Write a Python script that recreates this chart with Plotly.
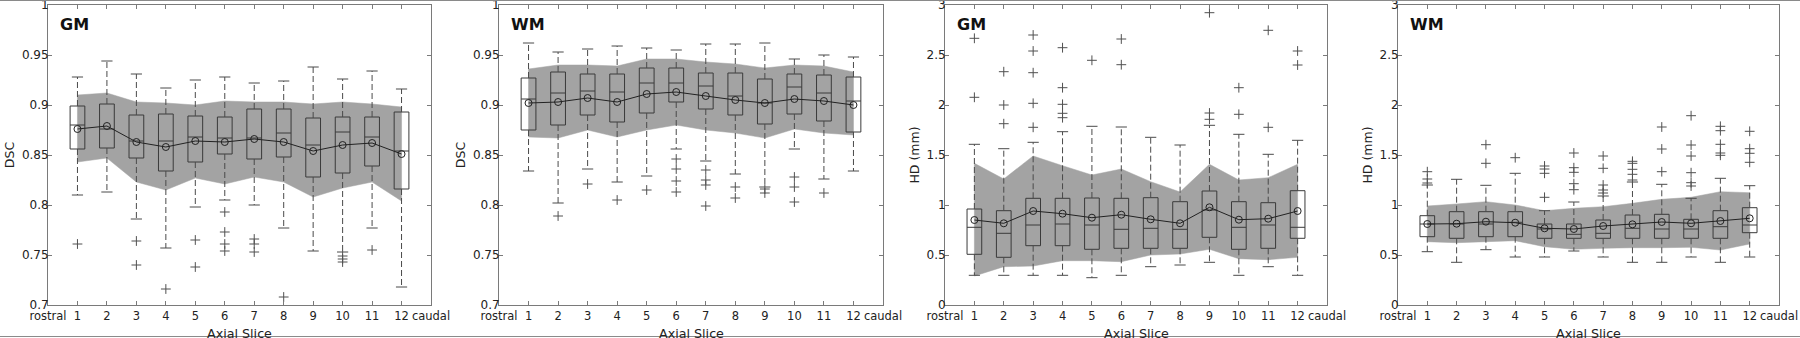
import plotly.graph_objects as go

slices = list(range(1, 13))
x_tickvals = list(range(0, 14))
x_ticktext = ["rostral"] + [str(i) for i in range(1, 13)] + ["caudal"]
dsc_ticks = [0.7, 0.75, 0.8, 0.85, 0.9, 0.95, 1]
hd_ticks = [0, 0.5, 1, 1.5, 2, 2.5, 3]

# ---- Panel 1: GM DSC ----
gm_dsc_hi = [0.928, 0.944, 0.931, 0.917, 0.925, 0.928, 0.922, 0.924, 0.938, 0.926, 0.934, 0.916]
gm_dsc_q3 = [0.899, 0.901, 0.890, 0.891, 0.889, 0.888, 0.896, 0.896, 0.887, 0.888, 0.888, 0.893]
gm_dsc_med = [0.880, 0.876, 0.864, 0.864, 0.868, 0.867, 0.867, 0.872, 0.860, 0.873, 0.868, 0.854]
gm_dsc_q1 = [0.856, 0.857, 0.847, 0.834, 0.843, 0.851, 0.846, 0.848, 0.828, 0.832, 0.839, 0.816]
gm_dsc_lo = [0.810, 0.813, 0.786, 0.757, 0.798, 0.805, 0.800, 0.777, 0.754, 0.753, 0.777, 0.718]
gm_dsc_mean = [0.876, 0.879, 0.863, 0.858, 0.864, 0.863, 0.866, 0.863, 0.854, 0.860, 0.862, 0.851]
gm_dsc_band_hi = [0.910, 0.912, 0.903, 0.902, 0.900, 0.904, 0.903, 0.903, 0.901, 0.903, 0.901, 0.898]
gm_dsc_band_lo = [0.843, 0.847, 0.823, 0.815, 0.827, 0.821, 0.828, 0.823, 0.808, 0.817, 0.823, 0.804]
gm_dsc_out = [[0.761], [], [0.764, 0.740], [0.716], [0.765, 0.738], [0.793, 0.773, 0.761, 0.754],
              [0.766, 0.761, 0.753], [0.708], [], [0.749, 0.746, 0.743], [0.755], []]

# ---- Panel 2: WM DSC ----
wm_dsc_hi = [0.962, 0.953, 0.956, 0.959, 0.957, 0.955, 0.961, 0.961, 0.962, 0.946, 0.950, 0.948]
wm_dsc_q3 = [0.927, 0.933, 0.931, 0.931, 0.937, 0.937, 0.932, 0.932, 0.926, 0.931, 0.930, 0.928]
wm_dsc_med = [0.906, 0.912, 0.914, 0.913, 0.922, 0.922, 0.919, 0.909, 0.902, 0.918, 0.912, 0.904]
wm_dsc_q1 = [0.875, 0.880, 0.890, 0.883, 0.892, 0.903, 0.896, 0.890, 0.881, 0.891, 0.884, 0.873]
wm_dsc_lo = [0.834, 0.802, 0.836, 0.823, 0.829, 0.856, 0.844, 0.831, 0.818, 0.856, 0.826, 0.834]
wm_dsc_mean = [0.902, 0.903, 0.907, 0.903, 0.911, 0.913, 0.909, 0.905, 0.902, 0.906, 0.904, 0.900]
wm_dsc_band_hi = [0.936, 0.940, 0.940, 0.939, 0.946, 0.946, 0.943, 0.941, 0.937, 0.940, 0.939, 0.933]
wm_dsc_band_lo = [0.868, 0.867, 0.875, 0.868, 0.875, 0.880, 0.875, 0.872, 0.867, 0.876, 0.872, 0.870]
wm_dsc_out = [[], [0.789], [0.821], [0.805], [0.815], [0.846, 0.836, 0.824, 0.813],
              [0.835, 0.825, 0.820, 0.799], [0.818, 0.807], [0.816, 0.812],
              [0.828, 0.818, 0.803], [0.812], []]

# ---- Panel 3: GM HD ----
gm_hd_hi = [1.607, 1.563, 1.627, 1.733, 1.787, 1.780, 1.677, 1.600, 1.797, 1.707, 1.507, 1.647]
gm_hd_q3 = [0.960, 0.943, 1.067, 1.067, 1.070, 1.067, 1.073, 1.033, 1.140, 1.033, 1.023, 1.143]
gm_hd_med = [0.777, 0.717, 0.800, 0.810, 0.800, 0.757, 0.767, 0.757, 0.950, 0.777, 0.800, 0.777]
gm_hd_q1 = [0.507, 0.477, 0.593, 0.593, 0.557, 0.567, 0.567, 0.567, 0.677, 0.557, 0.567, 0.667]
gm_hd_lo = [0.297, 0.297, 0.297, 0.297, 0.273, 0.297, 0.383, 0.400, 0.427, 0.297, 0.383, 0.297]
gm_hd_mean = [0.850, 0.817, 0.940, 0.913, 0.873, 0.903, 0.857, 0.817, 0.977, 0.853, 0.863, 0.940]
gm_hd_band_hi = [1.417, 1.260, 1.490, 1.393, 1.300, 1.360, 1.233, 1.130, 1.407, 1.250, 1.273, 1.407]
gm_hd_band_lo = [0.290, 0.383, 0.390, 0.443, 0.443, 0.433, 0.500, 0.510, 0.557, 0.463, 0.453, 0.477]
gm_hd_out = [[2.667, 2.077], [2.333, 2.0, 1.813], [2.70, 2.54, 2.323, 2.017, 1.777],
             [2.573, 2.173, 2.007, 1.917, 1.873], [2.447], [2.66, 2.403], [], [],
             [2.923, 1.92, 1.857], [2.173, 1.907], [2.747, 1.777], [2.54, 2.40]]

# ---- Panel 4: WM HD ----
wm_hd_hi = [1.200, 1.257, 1.197, 1.317, 0.943, 1.030, 1.090, 1.230, 1.207, 1.067, 1.267, 1.193]
wm_hd_q3 = [0.893, 0.933, 0.933, 0.933, 0.810, 0.810, 0.850, 0.900, 0.907, 0.857, 0.943, 0.973]
wm_hd_med = [0.810, 0.810, 0.810, 0.827, 0.760, 0.707, 0.717, 0.767, 0.760, 0.760, 0.783, 0.800]
wm_hd_q1 = [0.683, 0.667, 0.683, 0.683, 0.667, 0.667, 0.667, 0.667, 0.667, 0.667, 0.667, 0.723]
wm_hd_lo = [0.533, 0.427, 0.553, 0.480, 0.480, 0.540, 0.480, 0.427, 0.427, 0.480, 0.427, 0.480]
wm_hd_mean = [0.810, 0.813, 0.833, 0.823, 0.767, 0.760, 0.790, 0.807, 0.830, 0.817, 0.840, 0.867]
wm_hd_band_hi = [0.990, 1.010, 1.033, 1.000, 0.943, 0.967, 0.983, 1.017, 1.057, 1.077, 1.133, 1.123]
wm_hd_band_lo = [0.633, 0.623, 0.633, 0.643, 0.583, 0.557, 0.567, 0.573, 0.573, 0.577, 0.550, 0.610]
wm_hd_out = [[1.333, 1.26, 1.22], [], [1.603, 1.417], [1.473], [1.077, 1.317, 1.36, 1.39],
             [1.153, 1.213, 1.327, 1.373, 1.52], [1.12, 1.15, 1.20, 1.367, 1.49],
             [1.25, 1.307, 1.357, 1.417, 1.437], [1.333, 1.56, 1.78],
             [1.19, 1.223, 1.323, 1.49, 1.60, 1.893], [1.497, 1.52, 1.607, 1.743, 1.787],
             [1.427, 1.517, 1.563, 1.737]]

panels = [
    dict(label="GM", ytitle="DSC", yrange=[0.7, 1], yticks=dsc_ticks,
         hi=gm_dsc_hi, q3=gm_dsc_q3, med=gm_dsc_med, q1=gm_dsc_q1, lo=gm_dsc_lo,
         mean=gm_dsc_mean, bhi=gm_dsc_band_hi, blo=gm_dsc_band_lo, out=gm_dsc_out),
    dict(label="WM", ytitle="DSC", yrange=[0.7, 1], yticks=dsc_ticks,
         hi=wm_dsc_hi, q3=wm_dsc_q3, med=wm_dsc_med, q1=wm_dsc_q1, lo=wm_dsc_lo,
         mean=wm_dsc_mean, bhi=wm_dsc_band_hi, blo=wm_dsc_band_lo, out=wm_dsc_out),
    dict(label="GM", ytitle="HD (mm)", yrange=[0, 3], yticks=hd_ticks,
         hi=gm_hd_hi, q3=gm_hd_q3, med=gm_hd_med, q1=gm_hd_q1, lo=gm_hd_lo,
         mean=gm_hd_mean, bhi=gm_hd_band_hi, blo=gm_hd_band_lo, out=gm_hd_out),
    dict(label="WM", ytitle="HD (mm)", yrange=[0, 3], yticks=hd_ticks,
         hi=wm_hd_hi, q3=wm_hd_q3, med=wm_hd_med, q1=wm_hd_q1, lo=wm_hd_lo,
         mean=wm_hd_mean, bhi=wm_hd_band_hi, blo=wm_hd_band_lo, out=wm_hd_out),
]

W, H = 1800, 338
x_px = [(48, 431), (499, 883), (945, 1327), (1398, 1779)]
y_dom = [(H - 305) / H, (H - 5) / H]

FONT = "DejaVu Sans"
AX_COL = "#7a7a7a"
BOX_COL = "#3a3a3a"
WH_COL = "#4a4a4a"
BAND_COL = "#a3a3a3"
TXT_COL = "#222222"

fig = go.Figure()
layout = dict(
    width=W, height=H, margin=dict(l=0, r=0, t=0, b=0),
    paper_bgcolor="white", plot_bgcolor="white", showlegend=False,
    boxmode="overlay", font=dict(family=FONT, size=12, color=TXT_COL),
    annotations=[], shapes=[],
)

for k, p in enumerate(panels):
    sfx = "" if k == 0 else str(k + 1)
    xa, ya = "x" + sfx, "y" + sfx
    # band (mean +/- sd) as a shape beneath all traces
    pts = list(zip(slices, p["bhi"])) + list(zip(slices[::-1], p["blo"][::-1]))
    path = "M " + " L ".join("%g,%g" % (a, b) for a, b in pts) + " Z"
    layout["shapes"].append(dict(type="path", path=path, xref=xa, yref=ya, layer="below",
                                 fillcolor=BAND_COL, line=dict(color=BAND_COL, width=0.5)))
    # whiskers (dashed)
    wx, wy = [], []
    for i, s in enumerate(slices):
        wx += [s, s, None, s, s, None]
        wy += [p["q3"][i], p["hi"][i], None, p["q1"][i], p["lo"][i], None]
    fig.add_trace(go.Scatter(x=wx, y=wy, mode="lines", line=dict(width=1, color=WH_COL, dash="6px,3px"),
                             xaxis=xa, yaxis=ya, hoverinfo="skip", connectgaps=False))
    # whisker caps
    fig.add_trace(go.Scatter(x=slices + slices, y=p["hi"] + p["lo"], mode="markers",
                             marker=dict(symbol="line-ew", size=8, line=dict(width=1, color=WH_COL)),
                             xaxis=xa, yaxis=ya, hoverinfo="skip"))
    # boxes
    fig.add_trace(go.Box(x=slices, q1=p["q1"], median=p["med"], q3=p["q3"],
                         lowerfence=p["q1"], upperfence=p["q3"], width=0.5,
                         fillcolor="rgba(0,0,0,0)", line=dict(width=1, color=BOX_COL),
                         whiskerwidth=0, xaxis=xa, yaxis=ya, hoverinfo="skip"))
    # outliers
    ox, oy = [], []
    for i, vals in enumerate(p["out"]):
        for v in vals:
            ox.append(slices[i])
            oy.append(v)
    fig.add_trace(go.Scatter(x=ox, y=oy, mode="markers",
                             marker=dict(symbol="cross-thin", size=7, line=dict(width=1, color="#505050")),
                             xaxis=xa, yaxis=ya, hoverinfo="skip"))
    # mean line
    fig.add_trace(go.Scatter(x=slices, y=p["mean"], mode="lines+markers",
                             line=dict(width=1, color=TXT_COL),
                             marker=dict(symbol="circle-open", size=7, line=dict(width=1, color=TXT_COL)),
                             xaxis=xa, yaxis=ya, hoverinfo="skip"))

    x0, x1 = x_px[k]
    layout["xaxis" + sfx] = dict(
        domain=[x0 / W, x1 / W], anchor=ya, range=[0, 13],
        tickmode="array", tickvals=x_tickvals, ticktext=x_ticktext,
        ticks="inside", ticklen=4, tickcolor=AX_COL, showline=True, linecolor=AX_COL,
        linewidth=1, mirror="allticks", showgrid=False, zeroline=False,
        tickfont=dict(family=FONT, size=11.5, color=TXT_COL), ticklabeloverflow="allow",
        automargin=False,
    )
    layout["yaxis" + sfx] = dict(
        domain=y_dom, anchor=xa, range=p["yrange"],
        tickmode="array", tickvals=p["yticks"],
        ticks="inside", ticklen=4, tickcolor=AX_COL, showline=True, linecolor=AX_COL,
        linewidth=1, mirror="allticks", showgrid=False, zeroline=False,
        tickfont=dict(family=FONT, size=12, color=TXT_COL), ticklabeloverflow="allow",
        ticklabelstandoff=-4,
        title=dict(text=p["ytitle"], font=dict(family=FONT, size=12.5, color=TXT_COL), standoff=4),
        automargin=False,
    )
    layout["annotations"].append(dict(
        text="<b>%s</b>" % p["label"], xref=xa + " domain", yref=ya + " domain",
        x=10 / (x1 - x0), y=(305 - 24) / 300, xanchor="left", yanchor="middle",
        showarrow=False, font=dict(family=FONT, size=16, color="#111111"),
    ))
    layout["annotations"].append(dict(
        text="Axial Slice", xref=xa + " domain", yref="paper",
        x=0.5, y=(H - 333) / H, xanchor="center", yanchor="middle",
        showarrow=False, font=dict(family=FONT, size=12.7, color=TXT_COL),
    ))

# thin frame lines at top and bottom of the image
layout["shapes"] += [
    dict(type="line", xref="paper", yref="paper", x0=0, x1=1, y0=1 - 0.5 / H, y1=1 - 0.5 / H,
         line=dict(color="#8a8a8a", width=1)),
    dict(type="line", xref="paper", yref="paper", x0=0, x1=1, y0=1.5 / H, y1=1.5 / H,
         line=dict(color="#8a8a8a", width=1)),
]

fig.update_layout(**layout)
fig.write_html("out.html", config={"displayModeBar": False},
               post_script="document.body.style.margin='0';document.body.style.padding='0';"
                           "document.body.style.overflow='hidden';")
